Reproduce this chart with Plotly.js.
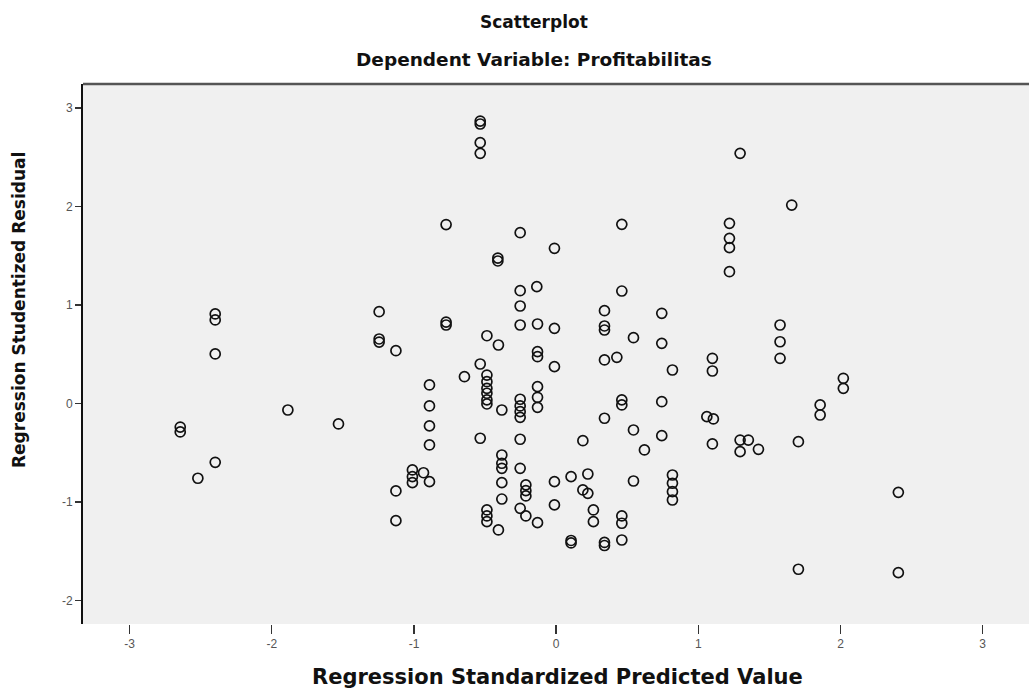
<!DOCTYPE html>
<html>
<head>
<meta charset="utf-8">
<script src="https://cdn.plot.ly/plotly-3.0.1.min.js"></script>
<style>html,body{margin:0;padding:0;background:#fff;}#chart{width:1029px;height:690px;}</style>
</head>
<body>
<div id="chart"></div>
<script>
// Regression Standardized Predicted Value
var predicted = [
 -2.398,-2.398,-2.398,-1.887,-1.531,-2.644,-2.644,-2.398,-2.520,
 -0.534,-0.534,-0.534,-0.534,-0.774,-0.253,-0.012,-0.410,-0.410,-0.253,-0.136,
 -0.253,-1.245,0.340,-0.774,-0.774,-0.253,-0.131,-0.012,-1.245,-1.245,
 -1.127,-0.487,-0.406,-0.131,-0.131,-0.012,0.340,0.340,0.340,-0.534,
 -0.645,-0.487,-0.487,-0.487,-0.487,-0.487,-0.487,-0.382,-0.891,-0.891,
 -0.891,-0.891,-0.253,-0.253,-0.253,-0.253,-0.131,-0.131,-0.131,0.340,
 -0.534,-0.253,0.188,-0.382,-0.382,-0.382,-0.253,-0.382,-0.382,-1.011,
 -1.011,-1.011,-0.933,-0.891,-1.127,-1.127,-0.213,-0.213,-0.213,-0.012,
 0.105,0.223,0.188,0.223,-0.012,-0.253,-0.213,-0.131,-0.487,-0.487,
 -0.487,-0.406,0.262,0.262,0.105,0.105,0.340,0.340,1.294,1.657,
 0.462,1.219,1.219,1.219,1.219,0.462,0.743,0.544,0.743,0.427,
 0.818,1.099,1.099,1.575,1.575,1.575,0.462,0.462,0.743,0.544,
 0.621,0.743,1.060,1.106,1.099,1.294,1.352,1.294,1.423,0.544,
 0.818,0.818,0.818,0.818,0.462,0.462,0.462,2.020,2.020,1.857,
 1.857,1.704,2.407,1.704,2.407
];
// Regression Studentized Residual
var residual = [
 0.909,0.848,0.503,-0.066,-0.208,-0.239,-0.289,-0.597,-0.759,
 2.868,2.838,2.648,2.540,1.817,1.734,1.576,1.477,1.447,1.145,1.186,
 0.990,0.932,0.942,0.827,0.797,0.797,0.807,0.763,0.655,0.624,
 0.536,0.688,0.594,0.526,0.475,0.374,0.787,0.746,0.442,0.401,
 0.272,0.289,0.221,0.154,0.104,0.036,-0.005,-0.066,0.188,-0.025,
 -0.228,-0.421,0.043,-0.025,-0.083,-0.140,0.171,0.063,-0.039,-0.150,
 -0.353,-0.363,-0.378,-0.523,-0.607,-0.658,-0.658,-0.804,-0.970,-0.675,
 -0.743,-0.804,-0.703,-0.794,-0.888,-1.190,-0.827,-0.885,-0.939,-0.794,
 -0.743,-0.716,-0.878,-0.912,-1.030,-1.064,-1.142,-1.210,-1.081,-1.142,
 -1.200,-1.284,-1.081,-1.200,-1.391,-1.416,-1.411,-1.442,2.540,2.015,
 1.819,1.829,1.677,1.582,1.338,1.142,0.916,0.668,0.611,0.469,
 0.340,0.459,0.330,0.797,0.627,0.459,0.036,-0.015,0.018,-0.269,
 -0.472,-0.327,-0.134,-0.157,-0.411,-0.371,-0.371,-0.489,-0.465,-0.787,
 -0.726,-0.810,-0.895,-0.980,-1.142,-1.216,-1.386,0.256,0.154,-0.015,
 -0.117,-0.388,-0.902,-1.683,-1.718
];
var xTicks = [-3,-2,-1,0,1,2,3];
var xTickText = ['-3','-2','-1','0','1','2','3'];
var yTicks = [-2,-1,0,1,2,3];
var yTickText = ['-2','-1','0','1','2','3'];

var FONT = 'Liberation Sans, Arial, sans-serif';
var WIDE = 'DejaVu Sans, Liberation Sans, sans-serif';

var trace = {
  x: predicted, y: residual, type: 'scatter', mode: 'markers',
  marker: {symbol: 'circle-open', size: 10, color: '#111', line: {width: 1.7, color: '#111'}},
  hoverinfo: 'x+y', showlegend: false
};

var layout = {
  width: 1029, height: 690,
  margin: {l: 83, r: 0, t: 84, b: 66, pad: 0},
  paper_bgcolor: '#ffffff', plot_bgcolor: '#f0f0f0',
  font: {family: FONT, color: '#222'},
  xaxis: {
    range: [-3.328, 3.326], tickvals: xTicks, ticktext: xTickText,
    showgrid: false, zeroline: false, showline: false,
    ticks: 'outside', ticklen: 9, tickwidth: 1.3, tickcolor: '#333',
    tickfont: {size: 12, color: '#555'}, fixedrange: true
  },
  yaxis: {
    range: [-2.239, 3.244], tickvals: yTicks, ticktext: yTickText,
    showgrid: false, zeroline: false, showline: true, linecolor: '#111', linewidth: 2,
    ticks: 'outside', ticklen: 6, tickwidth: 1.3, tickcolor: '#333',
    tickfont: {size: 12, color: '#555'}, fixedrange: true
  },
  shapes: [
    {type: 'line', xref: 'paper', yref: 'paper', x0: 0, x1: 1, y0: 1, y1: 1,
     line: {color: '#555', width: 2.5}}
  ],
  annotations: [
    {text: '<b>Scatterplot</b>', xref: 'paper', yref: 'paper', x: (534-83)/946, y: 1 + (84-22)/540,
     xanchor: 'center', yanchor: 'middle', showarrow: false, font: {size: 17, color: '#111', family: WIDE}},
    {text: '<b>Dependent Variable: Profitabilitas</b>', xref: 'paper', yref: 'paper', x: (534-83)/946, y: 1 + (84-60)/540,
     xanchor: 'center', yanchor: 'middle', showarrow: false, font: {size: 18.5, color: '#111', family: WIDE}},
    {text: '<b>Regression Standardized Predicted Value</b>', xref: 'paper', yref: 'paper', x: (557-83)/946, y: -(677-624)/540,
     xanchor: 'center', yanchor: 'middle', showarrow: false, font: {size: 21, color: '#111', family: WIDE}},
    {text: '<b>Regression Studentized Residual</b>', xref: 'paper', yref: 'paper', x: -(83-19)/946, y: (624-310)/540,
     xanchor: 'center', yanchor: 'middle', textangle: -90, showarrow: false, font: {size: 17, color: '#111', family: WIDE}}
  ]
};

Plotly.newPlot('chart', [trace], layout, {staticPlot: true, displayModeBar: false});
</script>
</body>
</html>
